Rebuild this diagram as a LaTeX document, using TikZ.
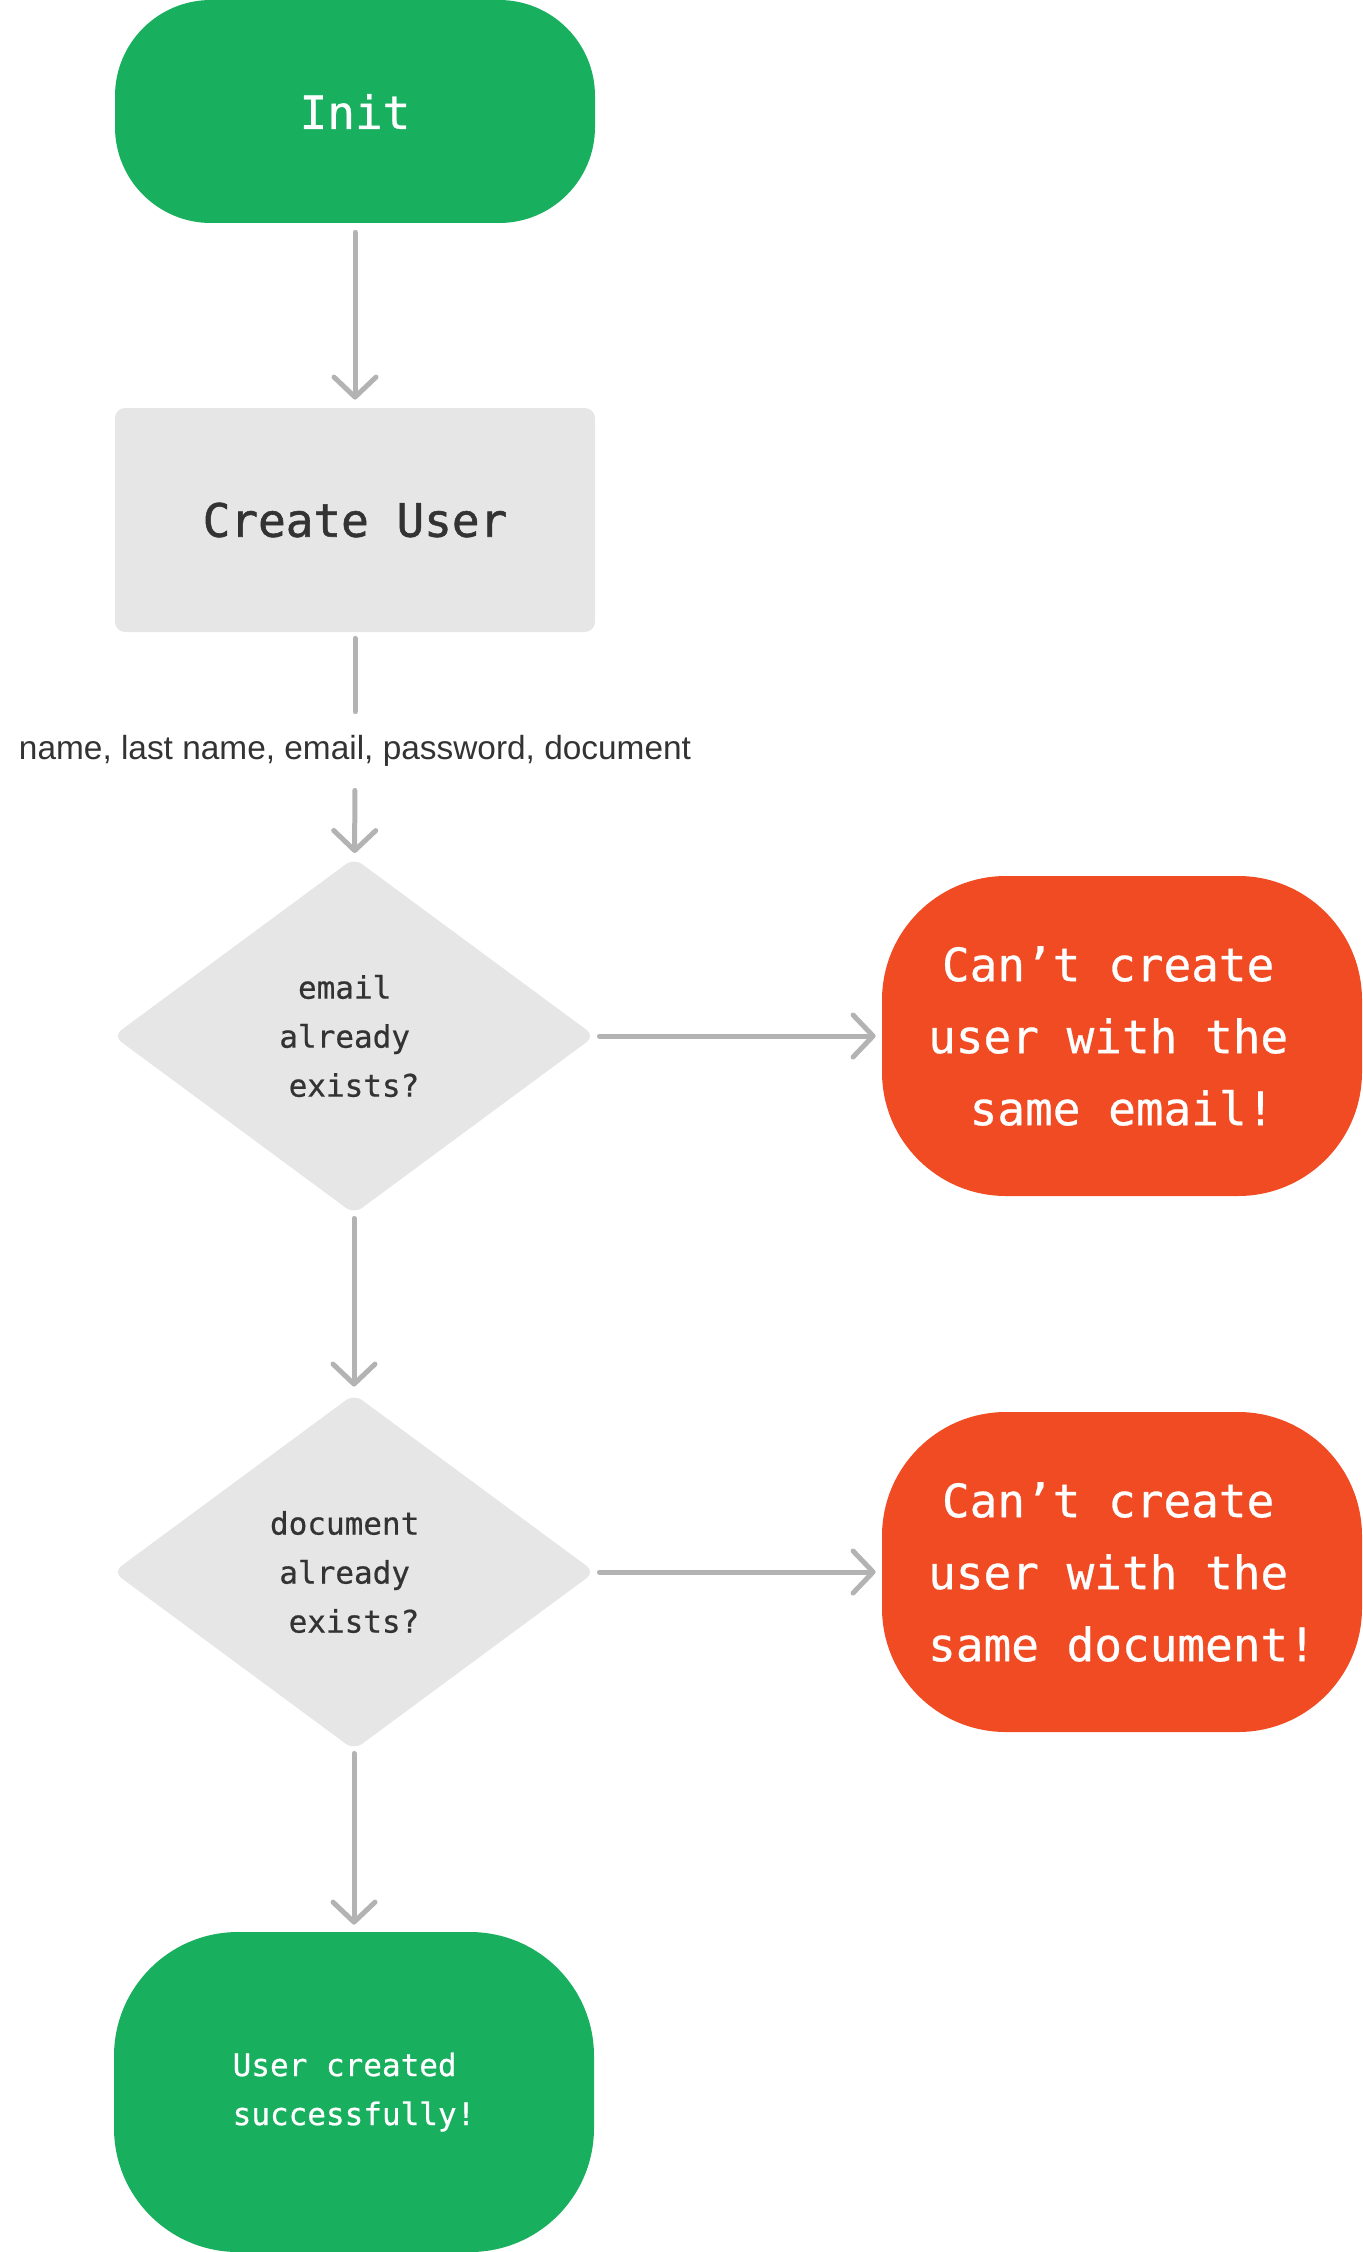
\documentclass[tikz,border=0pt]{standalone}
\usepackage{fontspec}
\setmainfont{Liberation Sans}
\newfontfamily\flowmono[FakeBold=0.6]{DejaVu Sans Mono}
\newfontfamily\flowmonoheavy[FakeBold=1.2]{DejaVu Sans Mono}
\usetikzlibrary{shapes.geometric,arrows.meta}
\definecolor{flowgreen}{RGB}{24,175,94}
\definecolor{flowred}{RGB}{241,75,36}
\definecolor{flowgray}{RGB}{230,230,230}
\definecolor{linegray}{RGB}{179,179,179}
\definecolor{textdark}{RGB}{51,51,51}
\begin{document}
\begin{tikzpicture}[x=0.5pt,y=-0.5pt,
  bigtext/.style={font=\flowmono\fontsize{23}{36}\selectfont},
  smalltext/.style={font=\flowmono\fontsize{15.5}{24.5}\selectfont},
  greenpill/.style={rectangle, fill=flowgreen, text=white, minimum width=240pt, inner sep=0pt, align=center},
  redpill/.style={rectangle, fill=flowred, text=white, minimum width=240pt, minimum height=160pt, rounded corners=62pt, inner sep=0pt, align=center, bigtext},
  procbox/.style={rectangle, fill=flowgray, text=textdark, minimum width=240pt, minimum height=112pt, rounded corners=5pt, inner sep=0pt, font=\flowmonoheavy\fontsize{23}{36}\selectfont},
  decision/.style={diamond, fill=flowgray, text=textdark, minimum width=241pt, minimum height=178pt, inner sep=0pt, rounded corners=5pt, align=center, smalltext},
  flowlabel/.style={text=textdark, font=\fontsize{16.7}{20}\selectfont, minimum height=39pt, inner sep=0pt},
  conn/.style={draw=linegray, line width=2.5pt, line cap=round},
  arrowend/.style={-{Straight Barb[length=10pt,width=21pt,round]}}
]
\useasboundingbox (0,0) rectangle (1362,2252);

\node[greenpill, bigtext, minimum height=111.5pt, rounded corners=48pt] (init) at (355,111.5) {Init};
\node[procbox] (cu) at (355,520) {Create User};
\node[flowlabel] (lbl) at (355,751) {name, last name, email, password, document};
\node[decision] (d1) at (354,1036) {email\hphantom{x}\\already\hphantom{x}\\\hphantom{x}exists?\hphantom{x}};
\node[redpill] (e1) at (1122,1036) {Can’t create\hphantom{x}\\user with the\hphantom{x}\\\hphantom{x}same email!\hphantom{x}};
\node[decision] (d2) at (354,1572) {document\hphantom{x}\\already\hphantom{x}\\\hphantom{x}exists?\hphantom{x}};
\node[redpill] (e2) at (1122,1572) {Can’t create\hphantom{x}\\user with the\hphantom{x}\\same document!};
\node[greenpill, smalltext, align=left, minimum height=160pt, rounded corners=62pt] (ok) at (354,2092) {User created\\successfully!};

\draw[conn, arrowend, shorten <=4.5pt, shorten >=4pt] (init) -- (cu);
\draw[conn, shorten <=3pt] (cu) -- (lbl);
\draw[conn, arrowend, shorten >=2.5pt] (lbl) -- (d1);
\draw[conn, arrowend, shorten <=2pt, shorten >=3pt] (d1) -- (e1);
\draw[conn, arrowend, shorten <=2pt, shorten >=3.5pt] (d1) -- (d2);
\draw[conn, arrowend, shorten <=2pt, shorten >=3pt] (d2) -- (e2);
\draw[conn, arrowend, shorten <=1.5pt, shorten >=3.5pt] (d2) -- (ok);
\end{tikzpicture}
\end{document}
